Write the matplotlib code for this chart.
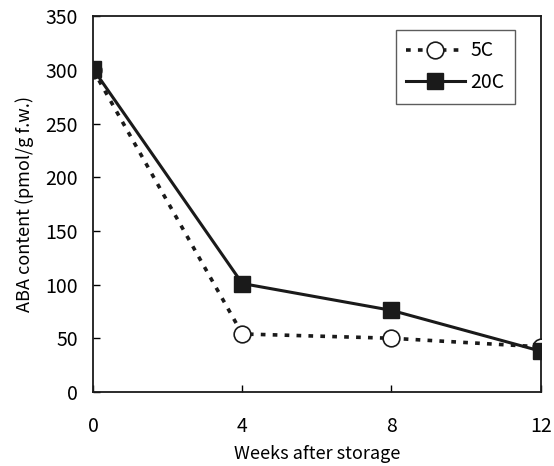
import matplotlib
matplotlib.use("Agg")
import matplotlib.pyplot as plt

weeks = [0, 4, 8, 12]
c5 = [300, 54, 50, 42]
c20 = [301, 101, 76, 38]
yticks = [0, 50, 100, 150, 200, 250, 300, 350]

plt.rcParams['font.family'] = ['Noto Sans CJK JP', 'DejaVu Sans']

fig = plt.figure(figsize=(5.54, 4.66), dpi=100)
ax = fig.add_axes([0.168, 0.159, 0.808, 0.806])

ax.plot(weeks, c5, linestyle=(0, (1.3, 2.0)), color='#1a1a1a', linewidth=2.6,
        marker='o', markersize=12, markerfacecolor='white', markeredgecolor='#1a1a1a',
        markeredgewidth=1.2, label='5C', zorder=3)
ax.plot(weeks, c20, linestyle='-', color='#1a1a1a', linewidth=2.2,
        marker='s', markersize=11.5, markerfacecolor='#1a1a1a', markeredgecolor='#1a1a1a',
        label='20C', zorder=4)

ax.set_xlim(0, 12)
ax.set_ylim(0, 350)
ax.set_xticks(weeks)
ax.set_yticks(yticks)
ax.tick_params(direction='in', length=5, width=1, labelsize=14, pad=11)
ax.tick_params(axis='x', pad=17)
for s in ax.spines.values():
    s.set_linewidth(1.3)
    s.set_color('#1a1a1a')
ax.set_xlabel('Weeks after storage', fontsize=13, labelpad=6)
ax.set_ylabel('ABA content (pmol/g f.w.)', fontsize=13, labelpad=8)

leg = ax.legend(loc='upper right', fontsize=14, frameon=True, fancybox=False,
                edgecolor='#333333', handlelength=3.0, borderpad=0.55,
                handletextpad=0.3, bbox_to_anchor=(0.965, 0.99), labelspacing=0.55)
leg.get_frame().set_linewidth(1.0)

fig.savefig('out.png', dpi=100)
